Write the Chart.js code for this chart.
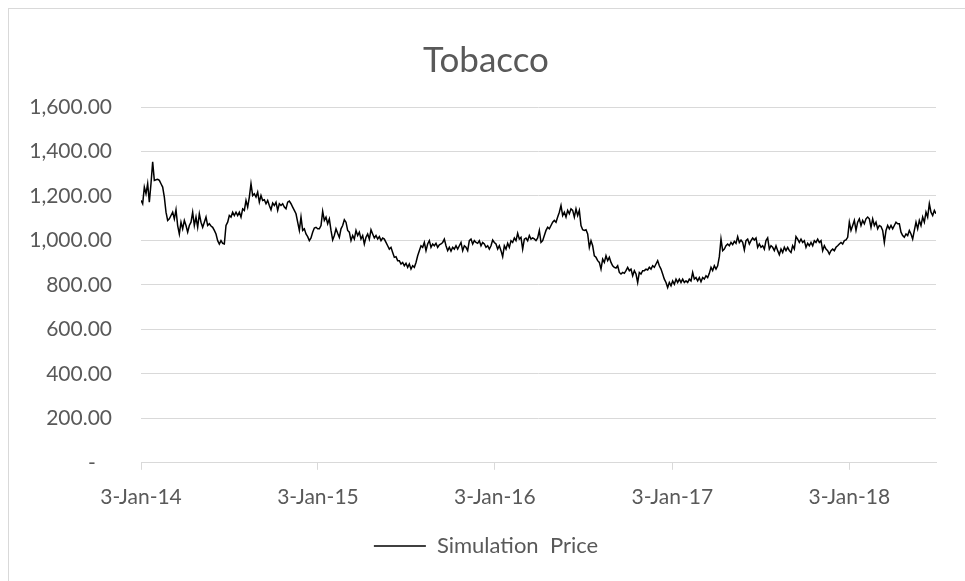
<!DOCTYPE html>
<html>
<head>
<meta charset="utf-8">
<title>Tobacco</title>
<script src="https://cdn.jsdelivr.net/npm/chart.js@4/dist/chart.umd.min.js"></script>
<style>
  html, body { margin: 0; padding: 0; background: #fff; overflow: hidden; }
  #frame {
    position: absolute; left: 8px; top: 8px;
    width: 1000px; height: 1000px;
    border: 1px solid #d9d9d9;
  }
  #wrap { position: absolute; left: 0; top: 0; width: 965px; height: 581px; }
</style>
</head>
<body>
<div id="frame"></div>
<div id="wrap"><canvas id="tobaccoChart" width="965" height="581"></canvas></div>
<script>
// Simulated tobacco price, sampled every ~3.44 days from 3-Jan-14
const sampleStepDays = 3.438;
const prices = [
  1180, 1165, 1240, 1210, 1255, 1172, 1256, 1353, 1270, 1273,
  1275, 1270, 1255, 1240, 1195, 1127, 1090, 1097, 1112, 1127,
  1097, 1138, 1067, 1029, 1082, 1052, 1090, 1067, 1037, 1067,
  1082, 1127, 1067, 1105, 1059, 1120, 1082, 1059, 1082, 1105,
  1067, 1075, 1065, 1059, 1045, 1029, 999, 984, 999, 987,
  984, 1067, 1082, 1112, 1105, 1127, 1112, 1127, 1112, 1127,
  1105, 1142, 1135, 1180, 1150, 1195, 1255, 1202, 1210, 1195,
  1217, 1172, 1202, 1180,
  1183, 1165, 1180, 1157, 1138, 1168, 1157, 1172, 1135, 1165,
  1157, 1165, 1150, 1142, 1172, 1177, 1165, 1150, 1135, 1120,
  1082, 1045, 1105, 1045, 1052, 1029, 1017, 999, 1011, 1037,
  1056, 1059, 1052, 1052, 1067, 1131, 1090, 1105, 1075, 1097,
  1045, 1002, 1022, 1052, 1032, 1014, 1052, 1067, 1093, 1082,
  1045, 1037, 999, 1022, 1006, 1045, 1022, 1037, 1006, 1022,
  984, 1014, 1029, 1006, 1048, 1029, 1011, 1022, 1006, 1017,
  999, 1011, 1006, 991, 976, 961, 969, 946, 924, 927,
  909,
  909, 894, 901, 886, 897, 879, 894, 871, 886, 879,
  901, 931, 954, 976, 969, 991, 954, 984, 999, 969,
  984, 976, 987, 969, 980, 984, 991, 1006, 976, 954,
  969, 952, 969, 961, 976, 961, 976, 991, 954, 976,
  969, 954, 999, 1006, 984, 999, 991, 987, 999, 976,
  991, 984, 969, 976, 961, 976, 1002, 991, 984, 961,
  976, 954, 927, 976, 961, 987, 969, 999, 991, 1011,
  999, 1032, 1006, 1014, 961, 1006, 1011, 999, 1022, 1006,
  1011,
  1007, 999, 1011, 1045, 991, 999, 1022, 1045, 1059, 1052,
  1067, 1082, 1090, 1082, 1105, 1127, 1157, 1112, 1127, 1105,
  1135, 1120, 1142, 1135, 1105, 1142, 1112, 1135, 1067, 1048,
  1045, 1048, 1029, 969, 999, 976, 931, 924, 909, 901,
  871, 916, 901, 931, 909, 924, 901, 886, 879, 876,
  886, 856, 849, 856, 852, 864, 879, 864, 871, 841,
  864, 849, 811, 856, 849, 864, 864, 871, 867, 879,
  871, 886, 879, 894, 909, 886, 871, 849, 826, 811,
  788,
  811, 796, 818, 803, 826, 811, 826, 811, 826, 811,
  818, 811, 826, 818, 856, 826, 833, 818, 833, 814,
  833, 826, 841, 833, 852, 879, 864, 886, 871, 886,
  927, 1006, 954, 961, 976, 984, 976, 991, 981, 996,
  987, 1017, 991, 1002, 991, 957, 999, 1006, 984, 999,
  1011, 1002, 1011, 969, 984, 969, 976, 961, 999, 1011,
  961, 976, 969, 954, 976, 954, 936, 961, 946, 969,
  954, 969, 954, 946, 976, 961, 1017, 1006, 991, 1006,
  991,
  999, 969, 987, 976, 991, 976, 999, 991, 1006, 991,
  999, 954, 976, 961, 954, 939, 954, 961, 954, 969,
  976, 984, 991, 984, 999, 1002, 1014, 1082, 1045, 1067,
  1090, 1045, 1082, 1097, 1067, 1090, 1075, 1097, 1105, 1097,
  1059, 1097, 1067, 1082, 1052, 1067, 1063, 1045, 991, 1045,
  1067, 1052, 1067, 1052, 1067, 1082, 1075, 1075, 1037, 1022,
  1014, 1029, 1022, 1045, 1029, 1006, 1045, 1082, 1052, 1090,
  1067, 1105, 1082, 1127, 1105, 1165, 1127, 1112, 1135, 1120
];

// Year marks on the date axis (days after 3-Jan-14)
const tickDays = [0, 365, 730, 1096, 1461];
const tickLabels = ['3-Jan-14', '3-Jan-15', '3-Jan-16', '3-Jan-17', '3-Jan-18'];

const textColor = '#595959';
const gridColor = '#d9d9d9';
const fontFamily = 'Lato, Calibri, Carlito, sans-serif';

const points = prices.map((p, i) => ({ x: i * sampleStepDays, y: p }));
const lastDay = (prices.length - 1) * sampleStepDays;

function formatPrice(v) {
  if (v === 0) return '-\u00a0\u00a0\u00a0';
  return v.toLocaleString('en-US', { minimumFractionDigits: 2, maximumFractionDigits: 2 });
}

const ctx = document.getElementById('tobaccoChart').getContext('2d');
const tobaccoChart = new Chart(ctx, {
  type: 'line',
  data: {
    datasets: [
      {
        label: 'Simulation  Price',
        data: points,
        borderColor: '#000000',
        backgroundColor: '#000000',
        borderWidth: 1.5,
        pointRadius: 0,
        tension: 0,
        fill: false,
      },
    ],
  },
  options: {
    responsive: false,
    animation: false,
    layout: { padding: { left: 28, right: 21, top: 0, bottom: 14 } },
    plugins: {
      title: {
        display: true,
        text: 'Tobacco',
        color: textColor,
        font: { family: fontFamily, size: 35, weight: 'normal' },
        padding: { top: 40, bottom: 25 },
      },
      legend: {
        position: 'bottom',
        labels: {
          color: textColor,
          font: { family: fontFamily, size: 22 },
          usePointStyle: true,
          pointStyle: 'line',
          pointStyleWidth: 52,
          padding: 10,
        },
      },
      tooltip: { enabled: false },
    },
    scales: {
      x: {
        type: 'linear',
        min: 0,
        max: lastDay,
        afterBuildTicks: (scale) => {
          scale.ticks = tickDays.map((d) => ({ value: d }));
        },
        ticks: {
          color: textColor,
          font: { family: fontFamily, size: 21 },
          padding: 15,
          maxRotation: 0,
          autoSkip: false,
          callback: (value, index) => tickLabels[index],
        },
        grid: { drawOnChartArea: false, color: gridColor, tickLength: 7 },
        border: { color: gridColor, width: 1 },
      },
      y: {
        min: 0,
        max: 1600,
        afterFit: (scale) => {
          scale.width = 113;
        },
        ticks: {
          stepSize: 200,
          color: textColor,
          font: { family: fontFamily, size: 21 },
          padding: 29,
          callback: (value) => formatPrice(value),
        },
        grid: { color: gridColor, drawTicks: false },
        border: { display: false },
      },
      // empty right-hand margin so the plot ends short of the title box edge
      yRight: {
        position: 'right',
        min: 0,
        max: 1600,
        afterFit: (scale) => {
          scale.width = 8;
        },
        ticks: { display: false },
        grid: { display: false },
        border: { display: false },
      },
    },
  },
});
</script>
</body>
</html>
